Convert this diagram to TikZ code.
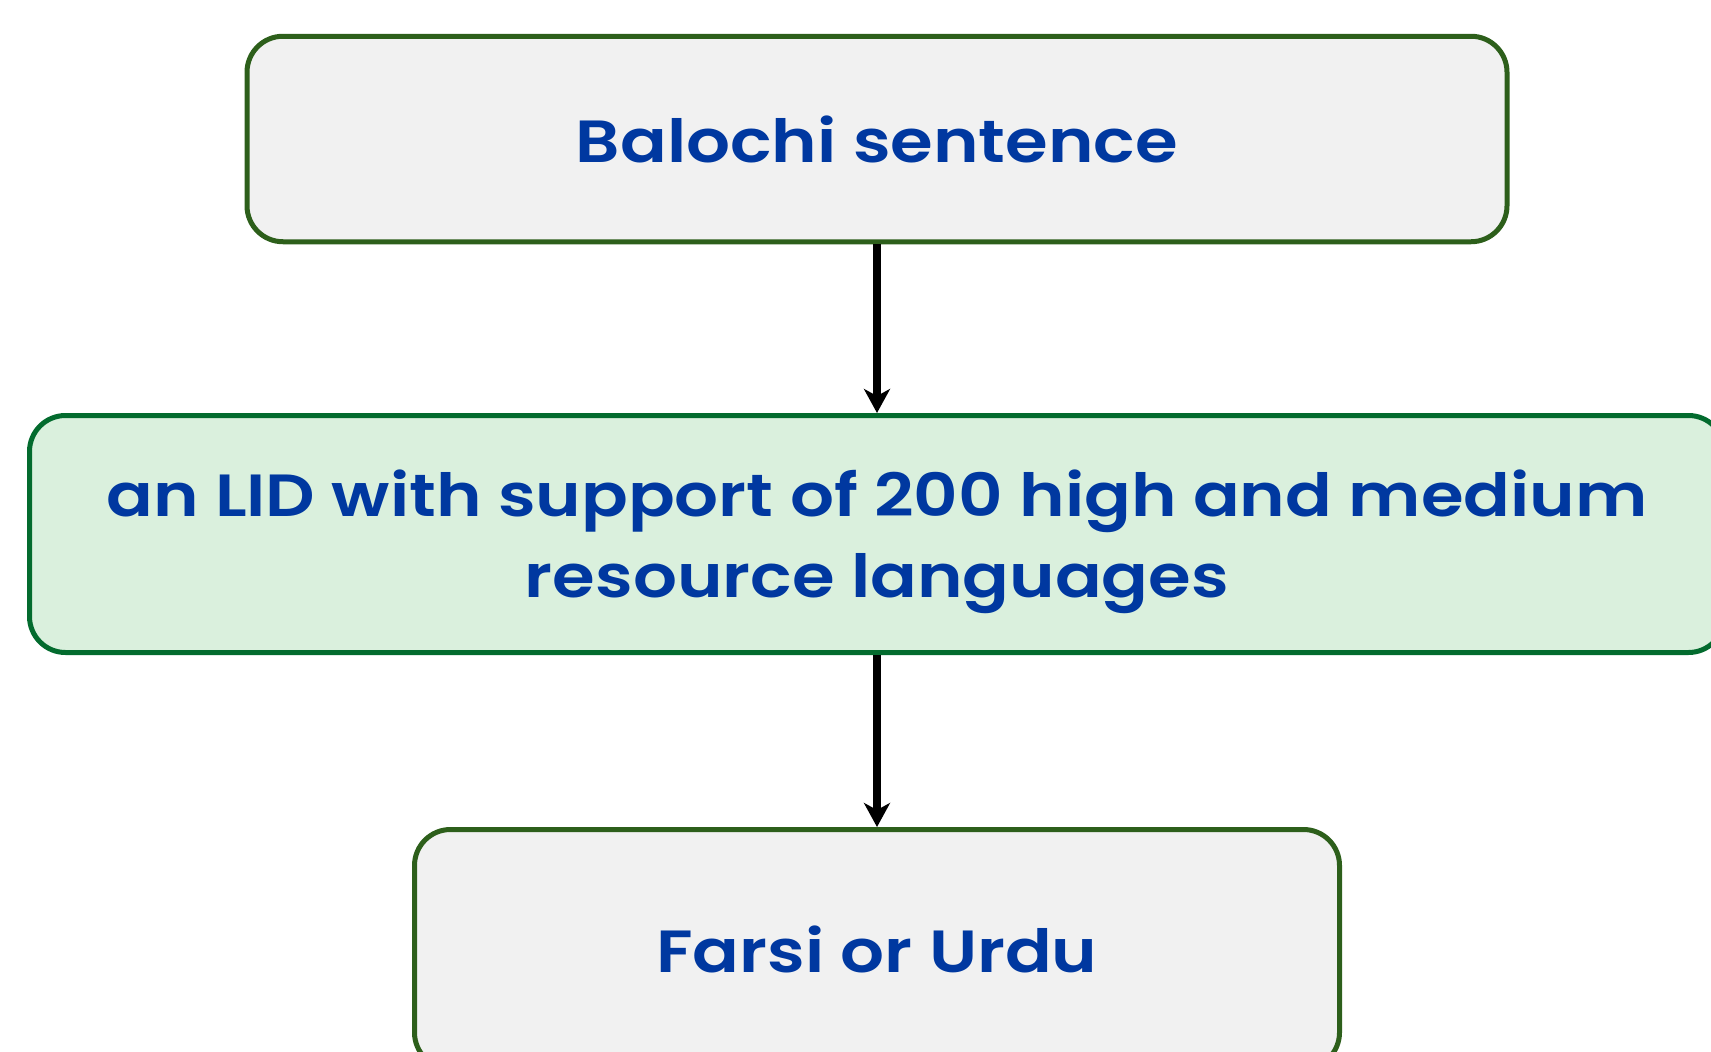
\documentclass[tikz,border=0pt]{standalone}
\usepackage{fontspec}
\setmainfont{Poppins}[UprightFont={* SemiBold}, BoldFont={* Bold}, FakeStretch=1.16]
\usetikzlibrary{arrows.meta}
\definecolor{txtblue}{RGB}{0,56,160}
\definecolor{greyfill}{RGB}{241,241,241}
\definecolor{greyborder}{RGB}{45,95,27}
\definecolor{greenfill}{RGB}{218,240,221}
\definecolor{greenborder}{RGB}{3,107,46}
\tikzset{
  box/.style={draw, line width=5pt, rounded corners=36pt, inner sep=0pt,
    align=center, text=txtblue, font=\fontsize{59.5}{81}\selectfont},
  greybox/.style={box, fill=greyfill, draw=greyborder},
  greenbox/.style={box, fill=greenfill, draw=greenborder},
  flow/.style={line width=8pt, -{Stealth[length=24pt, width=26pt, inset=7pt]}}
}
\begin{document}
\begin{tikzpicture}[x=1pt, y=-1pt]
\useasboundingbox (0,0) rectangle (1711,1052);
\clip (0,0) rectangle (1711,1052);
\node[greybox, minimum width=1260pt, minimum height=205.5pt] (top) at (877,139) {Balochi sentence};
\node[greenbox, minimum width=1695pt, minimum height=237pt, text depth=0pt] (lid) at (877,534) {an LID with support of 200 high and medium\\resource languages};
\node[greybox, minimum width=925pt, minimum height=239pt] (out) at (877,949) {Farsi or Urdu};
\draw[flow] (top.south) -- (lid.north);
\draw[flow] (lid.south) -- (out.north);
\end{tikzpicture}
\end{document}
